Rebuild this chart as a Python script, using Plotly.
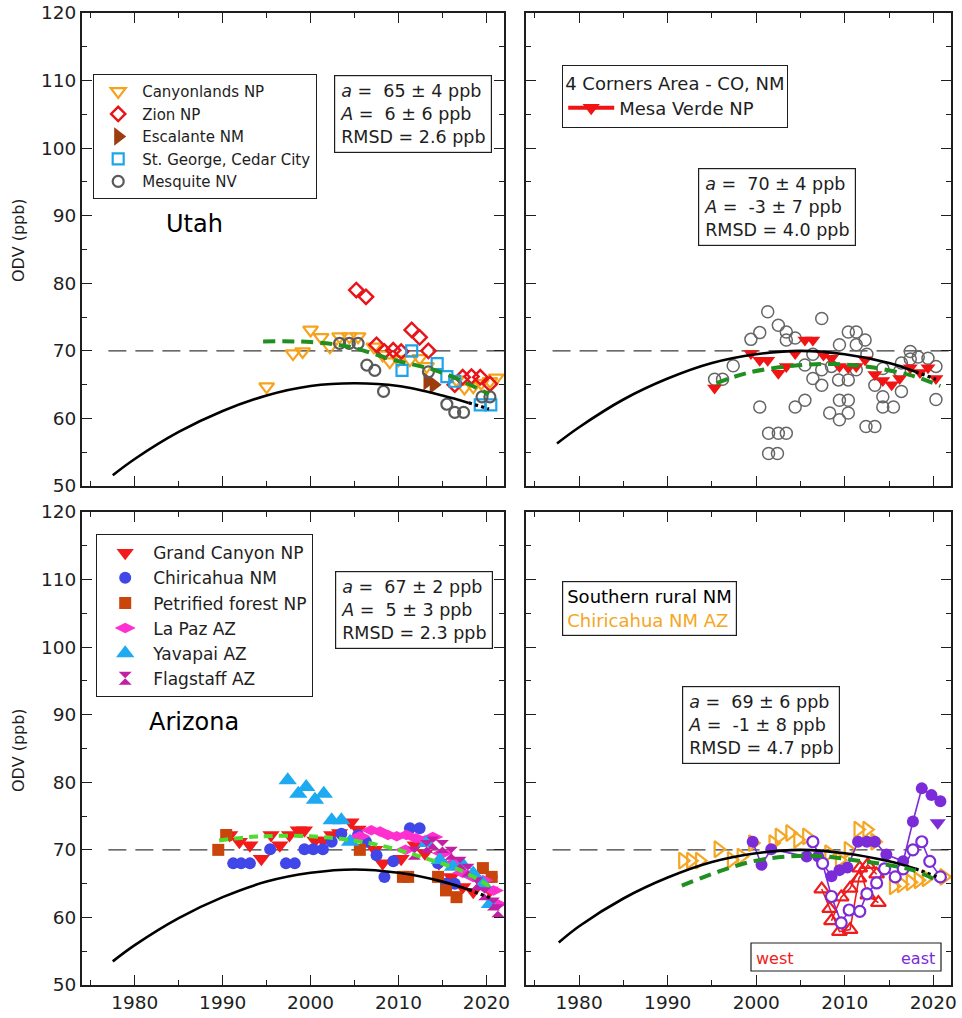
import plotly.graph_objects as go

# ---------------------------------------------------------------- data
# Utah
canyon_yr = [1995.0, 1998.0, 1999.1, 2000.0, 2001.2, 2002.2, 2003.3, 2004.4, 2005.4, 2007.2,
             2008.2, 2009.0, 2010.0, 2011.3, 2012.4, 2013.2, 2016.6, 2017.5, 2018.5, 2019.4,
             2020.4, 2021.1]
canyon_val = [64.7, 69.6, 69.9, 73.1, 72.0, 70.6, 72.1, 72.1, 72.1, 70.6,
              69.4, 68.4, 68.7, 68.7, 68.9, 67.7, 65.7, 64.5, 64.7, 65.2,
              65.5, 66.0]
zion_yr = [2005.2, 2006.3, 2007.5, 2008.4, 2009.4, 2010.3, 2011.5, 2012.4, 2013.4, 2016.4,
           2017.3, 2018.3, 2019.3, 2020.4]
zion_val = [79.0, 78.0, 70.9, 69.9, 70.1, 69.9, 73.1, 72.0, 70.0, 65.0,
            66.1, 66.2, 66.1, 65.1]
escal_yr = [2013.3, 2014.0]
escal_val = [65.5, 65.0]
stg_yr = [2010.4, 2011.5, 2014.4, 2015.5, 2016.4, 2019.3, 2020.5]
stg_val = [67.1, 70.0, 68.1, 66.2, 65.5, 62.0, 62.0]
mesq_yr = [2003.3, 2004.4, 2005.4, 2006.4, 2007.3, 2008.3, 2013.4, 2015.5, 2016.4, 2017.4,
           2019.5, 2020.4]
mesq_val = [71.1, 71.1, 71.1, 67.9, 67.1, 64.0, 66.9, 62.1, 60.9, 60.9, 63.2, 63.2]
utah_fit_yr = [1994.6, 2000.0, 2004.4, 2009.3, 2014.7, 2020.3]
utah_fit_val = [71.4, 71.3, 70.6, 68.7, 66.9, 63.6]
utah_model_yr = [1977.5, 1980, 1985, 1990, 1995, 2000, 2005, 2010, 2015, 2018]
utah_model_val = [51.6, 54.0, 58.0, 61.1, 63.4, 64.8, 65.2, 64.8, 63.4, 62.3]
utah_tail_yr = [2018, 2020.3]
utah_tail_val = [62.3, 61.4]

# Four Corners
mv_yr = [1995.3, 1999.4, 2000.4, 2001.3, 2002.5, 2003.4, 2004.4, 2005.5, 2006.4, 2007.6,
         2008.5, 2009.4, 2010.4, 2011.3, 2012.3, 2013.4, 2014.3, 2015.3, 2016.2, 2017.4,
         2018.5, 2019.4, 2020.3]
mv_val = [64.5, 69.6, 68.6, 68.6, 66.7, 67.7, 69.6, 71.6, 71.6, 69.4,
          68.9, 67.7, 67.5, 67.7, 68.7, 66.5, 65.6, 65.0, 65.9, 67.5,
          66.8, 67.5, 65.9]
fc_site_yr = [1995.3, 1996.2, 1997.4, 1999.4, 2000.4, 2000.4, 2001.3, 2001.4, 2002.5, 2003.4,
              2001.4, 2002.4, 2002.5, 2003.4, 2003.4, 2004.4, 2004.4, 2005.5, 2005.5, 2006.4,
              2007.4, 2007.4, 2007.4, 2008.3, 2009.4, 2010.4, 2009.4, 2010.4, 2009.3, 2010.4,
              2009.4, 2010.4, 2011.3, 2011.3, 2012.3, 2012.4, 2013.4, 2013.4, 2014.3, 2014.3,
              2015.5, 2016.4, 2016.4, 2017.4, 2018.3, 2019.4, 2020.3, 2020.3, 2008.5, 2011.3,
              2014.3, 2016.2, 2006.4, 2012.5, 2017.4]
fc_site_val = [65.8, 65.8, 67.8, 71.7, 72.7, 61.7, 75.8, 57.8, 57.8, 57.8,
               54.8, 54.8, 73.8, 72.8, 71.6, 71.9, 61.7, 62.7, 67.9, 65.9,
               64.9, 67.2, 74.8, 60.8, 59.8, 60.8, 62.7, 62.7, 65.7, 65.7,
               70.9, 72.8, 72.8, 70.9, 71.6, 58.8, 58.8, 64.9, 63.2, 61.7,
               61.7, 64.0, 68.2, 69.9, 69.1, 68.9, 67.7, 62.8, 67.7, 67.2,
               67.4, 67.0, 69.5, 69.5, 68.8]
fc_fit_yr = [1995.5, 1998.9, 2004.2, 2008.7, 2012.8, 2017.4, 2020.8]
fc_fit_val = [65.2, 66.7, 67.8, 68.05, 67.6, 66.4, 64.8]
fc_model_yr = [1977.5, 1980, 1985, 1990, 1995, 2000, 2005, 2010, 2015, 2018]
fc_model_val = [56.3, 58.7, 62.8, 65.9, 68.2, 69.5, 70.0, 69.5, 68.2, 66.9]
fc_tail_yr = [2018, 2020.3]
fc_tail_val = [66.9, 65.8]

# Arizona
gc_yr = [1990.8, 1991.9, 1993.1, 1994.4, 1995.5, 1996.5, 1997.6, 1998.6, 1999.3, 2000.5,
         2001.4, 2002.4, 2003.3, 2004.6, 2005.4, 2007.3, 2008.2, 2010.3, 2011.9, 2013.0,
         2014.6, 2016.0, 2017.3, 2018.5, 2019.5, 2020.4]
gc_val = [72.2, 71.2, 70.7, 68.7, 72.2, 70.7, 72.2, 72.9, 72.9, 71.4,
          71.4, 72.2, 72.5, 74.1, 73.0, 70.0, 68.0, 68.7, 70.7, 69.5,
          68.0, 66.0, 64.5, 63.8, 65.0, 64.0]
chir_yr = [1991.2, 1992.1, 1993.1, 1995.4, 1997.2, 1998.2, 1999.3, 2000.3, 2001.4, 2002.4,
           2003.5, 2005.4, 2006.3, 2007.5, 2008.4, 2009.4, 2011.3, 2012.4, 2014.5, 2015.4,
           2016.4, 2020.6]
chir_val = [68.0, 68.0, 68.0, 70.1, 68.0, 68.0, 70.1, 70.1, 70.1, 71.2,
            72.4, 72.2, 71.2, 69.2, 66.0, 68.3, 73.2, 73.2, 68.0, 65.0,
            65.0, 66.0]
petr_yr = [1989.5, 1990.4, 2005.6, 2010.5, 2011.1, 2014.5, 2015.4, 2016.6, 2019.6, 2020.6]
petr_val = [70.0, 72.2, 70.0, 66.0, 66.0, 66.0, 64.0, 63.0, 67.3, 66.0]
lapaz_yr = [2005.6, 2006.9, 2007.9, 2008.8, 2009.8, 2010.9, 2012.0, 2013.0, 2013.9, 2010.8,
            2015.0, 2016.2, 2017.3, 2018.5, 2019.6, 2020.8, 2021.2]
lapaz_val = [72.0, 72.9, 72.7, 72.2, 72.0, 72.2, 71.7, 71.4, 71.9, 70.0,
             69.5, 68.0, 66.6, 66.0, 65.5, 64.0, 62.0]
yav_yr = [1997.4, 1998.6, 1999.5, 2000.5, 2001.5, 2002.4, 2003.5, 2004.5, 2013.2, 2014.7,
          2016.2, 2017.3, 2018.5, 2019.6, 2020.4]
yav_val = [80.3, 78.3, 79.3, 77.4, 78.3, 74.4, 74.4, 71.2, 71.0, 68.5,
           67.5, 67.8, 66.5, 65.0, 62.0]
flag_yr = [2011.8, 2013.2, 2013.9, 2015.0, 2016.0, 2017.0, 2017.9, 2018.9, 2019.8, 2020.8, 2021.3]
flag_val = [69.5, 70.5, 71.0, 70.5, 69.5, 68.0, 67.0, 65.0, 63.5, 62.0, 61.0]
az_fit_yr = [1989.6, 1994.2, 2000.0, 2004.8, 2009.4, 2013.2, 2017.0, 2020.4]
az_fit_val = [71.4, 72.0, 72.0, 71.4, 70.2, 68.7, 67.0, 64.6]
az_model_yr = [1977.5, 1980, 1985, 1990, 1995, 2000, 2005, 2010, 2015, 2018]
az_model_val = [53.5, 55.9, 59.9, 63.0, 65.3, 66.6, 67.1, 66.6, 65.3, 64.1]
az_tail_yr = [2018, 2020.4]
az_tail_val = [64.1, 62.9]

# Southern New Mexico / Chiricahua
chir2_yr = [1991.7, 1992.6, 1993.6, 1995.7, 1997.2, 1998.3, 1999.6, 2001.9, 2002.6, 2003.8,
            2004.7, 2005.7, 2008.2, 2009.4, 2010.4, 2011.5, 2012.5, 2013.4, 2015.5, 2016.4,
            2017.4, 2018.3, 2019.2, 2021.2]
chir2_val = [68.4, 68.4, 68.4, 70.1, 68.5, 69.0, 71.0, 71.0, 72.0, 72.5,
             71.5, 72.0, 69.5, 68.5, 70.0, 73.0, 73.0, 71.2, 64.6, 64.9,
             65.2, 65.5, 65.8, 66.0]
west_a_yr = [2007.4, 2008.3, 2009.4, 2010.6, 2011.6, 2012.6, 2013.6]
west_a_val = [64.2, 61.3, 57.9, 58.2, 65.8, 67.8, 66.4]
west_b_yr = [2008.5, 2009.6, 2010.6, 2011.7, 2012.6, 2013.8]
west_b_val = [59.5, 63.0, 64.3, 67.3, 63.3, 62.2]
east_f_yr = [1999.6, 2000.6, 2001.7, 2005.7, 2007.0, 2008.5, 2009.4, 2010.3, 2011.5, 2012.5,
             2013.4, 2014.7, 2016.6, 2017.7, 2018.7, 2019.8, 2020.8]
east_f_val = [71.2, 67.8, 70.1, 69.0, 69.0, 66.1, 67.0, 67.4, 71.2, 71.2,
              71.2, 69.3, 68.3, 74.2, 79.1, 78.1, 77.2]
east_o_yr = [2006.4, 2007.5, 2008.5, 2009.6, 2010.5, 2011.7, 2012.5, 2013.6, 2014.5, 2015.7,
             2016.6, 2017.7, 2018.7, 2019.6, 2020.8]
east_o_val = [71.2, 68.0, 63.1, 59.2, 61.1, 60.9, 63.5, 65.1, 67.2, 66.0,
              67.2, 70.0, 71.2, 68.3, 66.0]
east_t_yr = [2020.5]
east_t_val = [74.0]
snm_fit_yr = [1991.6, 1995.8, 1999.6, 2003.4, 2007.2, 2010.9, 2014.7, 2017.7, 2020.2]
snm_fit_val = [64.7, 66.8, 68.3, 69.0, 69.1, 68.5, 67.8, 67.0, 65.6]
snm_model_yr = [1977.7, 1980, 1985, 1990, 1995, 2000, 2005, 2010, 2015, 2018]
snm_model_val = [56.3, 58.7, 62.8, 65.9, 68.2, 69.5, 70.0, 69.5, 68.3, 67.2]
snm_tail_yr = [2018, 2020.4]
snm_tail_val = [67.2, 66.0]

x_major = [1980, 1990, 2000, 2010, 2020]
x_minor = [1975, 1985, 1995, 2005, 2015]
y_major = [50, 60, 70, 80, 90, 100, 110, 120]
y_minor = [55, 65, 75, 85, 95, 105, 115]
X_RANGE = [1974, 2022]
Y_RANGE = [50, 120]
NAAQS = 70
NAAQS_START = 1977

# ---------------------------------------------------------------- layout helpers
W, H = 962, 1018
FONT = "DejaVu Sans"
INK = "#1e1e1e"


def fx(p):
    return p / W


def fy(p):
    return 1 - p / H


# panel number -> (x extent px, y extent px)
PANELS = {
    1: ([82, 504], [13, 486]),
    2: ([526, 951], [13, 486]),
    3: ([82, 504], [512, 985]),
    4: ([526, 951], [512, 985]),
}

fig = go.Figure()


def sfx(i):
    return "" if i == 1 else str(i)


def markers(i, x, y, name, symbol, color, size, open_line=None, legend=None, fill=None,
            mode="markers", line_color=None):
    m = dict(symbol=symbol, size=size, color=fill if fill else color)
    if open_line:
        m["line"] = dict(color=color, width=open_line)
    else:
        m["line"] = dict(width=0)
    tr = go.Scatter(x=x, y=y, mode=mode, name=name, marker=m,
                    xaxis="x" + sfx(i), yaxis="y" + sfx(i),
                    showlegend=legend is not None, legend=legend or "legend")
    if "lines" in mode:
        tr.line = dict(color=line_color or color, width=1.6)
    fig.add_trace(tr)


def curves(i, fit_x, fit_y, fit_color, fit_dash, mod_x, mod_y, tail_x, tail_y):
    ax = dict(xaxis="x" + sfx(i), yaxis="y" + sfx(i), showlegend=False, mode="lines",
              hoverinfo="skip")
    fig.add_trace(go.Scatter(x=mod_x, y=mod_y, line=dict(color="black", width=2.6,
                                                         shape="spline"), **ax))
    fig.add_trace(go.Scatter(x=tail_x, y=tail_y, line=dict(color="black", width=3.2,
                                                           dash="dot"), **ax))
    fig.add_trace(go.Scatter(x=fit_x, y=fit_y, line=dict(color=fit_color, width=4,
                                                         dash=fit_dash, shape="spline"),
                             **ax))


# ---- Utah
markers(1, canyon_yr, canyon_val, "Canyonlands NP", "triangle-down-open", "#f7a21b", 13,
        open_line=2.2, legend="legend")
markers(1, zion_yr, zion_val, "Zion NP", "diamond-open", "#e8141a", 11, open_line=2.4,
        legend="legend")
markers(1, escal_yr, escal_val, "Escalante NM", "triangle-right", "#9c3d0f", 16,
        legend="legend")
markers(1, stg_yr, stg_val, "St. George, Cedar City", "square-open", "#1ea4ec", 11,
        open_line=2.2, legend="legend")
markers(1, mesq_yr, mesq_val, "Mesquite NV", "circle-open", "#5a5a5a", 11, open_line=2.2,
        legend="legend")
curves(1, utah_fit_yr, utah_fit_val, "#1f8f1f", "12px,7px", utah_model_yr, utah_model_val,
       utah_tail_yr, utah_tail_val)

# ---- Four Corners
markers(2, fc_site_yr, fc_site_val, "sites", "circle-open", "#666666", 12, open_line=1.5)
markers(2, mv_yr, mv_val, "Mesa Verde NP", "triangle-down", "#f01414", 13)
fig.add_trace(go.Scatter(x=[None], y=[None], mode="lines+markers", name="Mesa Verde NP",
                         marker=dict(symbol="triangle-down", size=15, color="#f01414"),
                         line=dict(color="#f01414", width=4), xaxis="x2", yaxis="y2",
                         legend="legend2", showlegend=True))
curves(2, fc_fit_yr, fc_fit_val, "#1f8f1f", "12px,7px", fc_model_yr, fc_model_val,
       fc_tail_yr, fc_tail_val)

# ---- Arizona
markers(3, gc_yr, gc_val, "Grand Canyon NP", "triangle-down", "#f21a1a", 15, legend="legend3")
markers(3, chir_yr, chir_val, "Chiricahua NM", "circle", "#4146e8", 12, legend="legend3")
markers(3, petr_yr, petr_val, "Petrified forest NP", "square", "#c9450c", 12,
        legend="legend3")
markers(3, lapaz_yr, lapaz_val, "La Paz AZ", "diamond-wide", "#ff2fd0", 15,
        legend="legend3")
markers(3, yav_yr, yav_val, "Yavapai AZ", "triangle-up", "#1eaaf0", 16, legend="legend3")
markers(3, flag_yr, flag_val, "Flagstaff AZ", "hourglass", "#c21fa6", 13, legend="legend3")
curves(3, az_fit_yr, az_fit_val, "#4fdc2c", "9px,6px", az_model_yr, az_model_val,
       az_tail_yr, az_tail_val)

# ---- Southern rural NM + Chiricahua
PURPLE = "#7b2cd8"
RED4 = "#ee1c1c"
markers(4, chir2_yr, chir2_val, "Chiricahua NM AZ", "triangle-right-open", "#f5a623", 14,
        open_line=2.2)
markers(4, west_a_yr, west_a_val, "west a", "triangle-up-open", RED4, 13, open_line=2.2,
        mode="lines+markers")
markers(4, west_b_yr, west_b_val, "west b", "triangle-up-open", RED4, 13, open_line=2.2,
        mode="lines+markers")
markers(4, east_f_yr, east_f_val, "east", "circle", PURPLE, 12, mode="lines+markers")
markers(4, east_o_yr, east_o_val, "east open", "circle", PURPLE, 11, open_line=2.2,
        fill="white", mode="lines+markers")
markers(4, east_t_yr, east_t_val, "east latest", "triangle-down", PURPLE, 14)
curves(4, snm_fit_yr, snm_fit_val, "#1f8f1f", "12px,7px", snm_model_yr, snm_model_val,
       snm_tail_yr, snm_tail_val)

# ---------------------------------------------------------------- axes
for i, (xd, yd) in PANELS.items():
    bottom = i in (3, 4)
    left = i in (1, 3)
    common = dict(showline=True, linecolor=INK, linewidth=1.8, mirror="allticks",
                  ticks="inside", ticklen=10, tickwidth=1.4, tickcolor=INK,
                  showgrid=False, zeroline=False, fixedrange=True, automargin=False,
                  tickfont=dict(family=FONT, size=18.5, color=INK))
    fig.layout["xaxis" + sfx(i)] = dict(
        common, domain=[fx(xd[0]), fx(xd[1])], range=X_RANGE, anchor="y" + sfx(i),
        tickmode="array", tickvals=x_major, ticktext=[str(v) for v in x_major],
        showticklabels=bottom,
        minor=dict(tickmode="array", tickvals=x_minor, ticks="inside", ticklen=5,
                   tickwidth=1.4, tickcolor=INK))
    fig.layout["yaxis" + sfx(i)] = dict(
        common, domain=[fy(yd[1]), fy(yd[0])], range=Y_RANGE, anchor="x" + sfx(i),
        tickmode="array", tickvals=y_major, ticktext=[str(v) for v in y_major],
        showticklabels=left,
        minor=dict(tickmode="array", tickvals=y_minor, ticks="inside", ticklen=5,
                   tickwidth=1.4, tickcolor=INK))
    fig.add_shape(type="line", xref="x" + sfx(i), yref="y" + sfx(i), x0=NAAQS_START,
                  x1=X_RANGE[1], y0=NAAQS, y1=NAAQS, layer="below",
                  line=dict(color="#3a3a3a", width=1.3, dash="18px,9px"))

# ---------------------------------------------------------------- text boxes
fit_boxes = [
    (334, 75, "65 ± 4", "6 ± 6", "2.6"),
    (698, 168, "70 ± 4", "-3 ± 7", "4.0"),
    (335, 571, "67 ± 2", "5 ± 3", "2.3"),
    (682, 686, "69 ± 6", "-1 ± 8", "4.7"),
]
NB = "\u00a0"
for x0, y0, a, A, rmsd in fit_boxes:
    fig.add_annotation(
        xref="paper", yref="paper", x=fx(x0), y=fy(y0), xanchor="left", yanchor="top",
        text=f"<i>a</i> ={NB}{NB}{a} ppb<br><i>A</i> ={NB}{NB}{A} ppb<br>RMSD = {rmsd} ppb",
        showarrow=False, align="left", bgcolor="white", bordercolor=INK, borderwidth=1.2,
        borderpad=5, font=dict(family=FONT, size=17.5, color=INK))

for label, cx, cy in [("Utah", 194, 224), ("Arizona", 194, 722)]:
    fig.add_annotation(xref="paper", yref="paper", x=fx(cx), y=fy(cy), text=label,
                       showarrow=False, xanchor="center", yanchor="middle",
                       font=dict(family=FONT, size=24, color="black"))

for cy in (240, 750):
    fig.add_annotation(xref="paper", yref="paper", x=fx(18), y=fy(cy), text="ODV (ppb)",
                       textangle=-90, showarrow=False, xanchor="center", yanchor="middle",
                       font=dict(family=FONT, size=16, color=INK))

fig.add_annotation(
    xref="paper", yref="paper", x=fx(562), y=fy(581), xanchor="left", yanchor="top",
    text="Southern rural NM<br><span style='color:#f5a623'>Chiricahua NM AZ</span>",
    showarrow=False, align="left", bgcolor="white", bordercolor=INK, borderwidth=1.2,
    borderpad=4, font=dict(family=FONT, size=18, color="black"))

fig.add_shape(type="rect", xref="paper", yref="paper", x0=fx(751), x1=fx(941),
              y0=fy(971), y1=fy(943), line=dict(color=INK, width=1.2), fillcolor="white")
fig.add_annotation(xref="paper", yref="paper", x=fx(754), y=fy(958), text="west",
                   showarrow=False, xanchor="left", yanchor="middle",
                   font=dict(family=FONT, size=16, color=RED4))
fig.add_annotation(xref="paper", yref="paper", x=fx(937), y=fy(958), text="east",
                   showarrow=False, xanchor="right", yanchor="middle",
                   font=dict(family=FONT, size=16, color=PURPLE))

# ---------------------------------------------------------------- legends
leg_common = dict(xanchor="left", yanchor="top", bgcolor="white", bordercolor=INK,
                  borderwidth=1.2, tracegroupgap=0, itemclick=False, itemdoubleclick=False)
fig.update_layout(
    legend=dict(leg_common, x=fx(93), y=fy(74), itemwidth=38,
                font=dict(family=FONT, size=15, color=INK)),
    legend2=dict(leg_common, x=fx(562), y=fy(65), itemwidth=46,
                 font=dict(family=FONT, size=18, color=INK),
                 title=dict(text="4 Corners Area - CO, NM",
                            font=dict(family=FONT, size=18, color=INK))),
    legend3=dict(leg_common, x=fx(96), y=fy(534), itemwidth=46,
                 font=dict(family=FONT, size=17, color=INK)),
)

fig.update_layout(width=W, height=H, margin=dict(l=0, r=0, t=0, b=0, autoexpand=False),
                  paper_bgcolor="white", plot_bgcolor="white",
                  font=dict(family=FONT, color=INK), hovermode=False)

fig.write_html("out.html")
